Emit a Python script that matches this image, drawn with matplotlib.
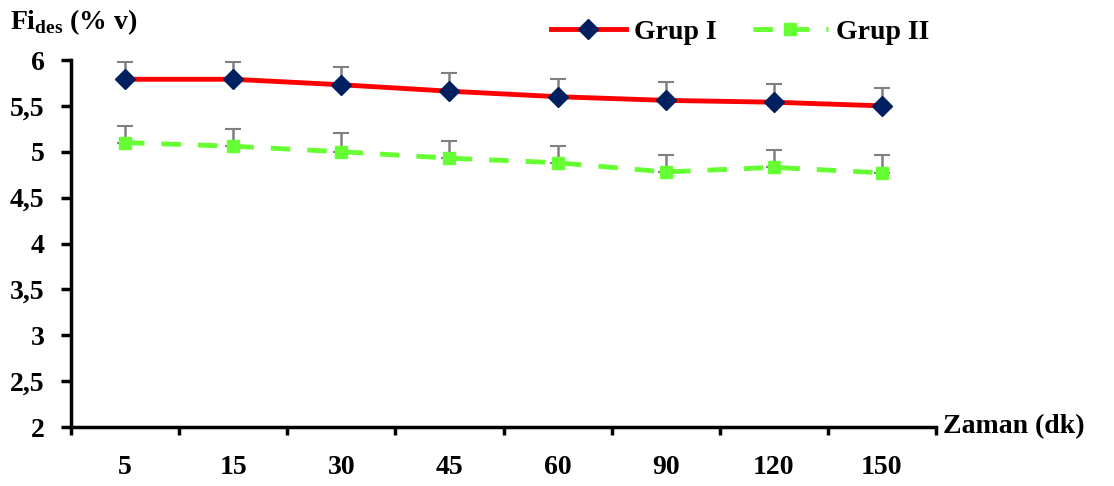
from matplotlib import pyplot as plt
import numpy as np

zaman = ['5', '15', '30', '45', '60', '90', '120', '150']
grup1 = [5.79, 5.79, 5.73, 5.66, 5.60, 5.56, 5.54, 5.50]
grup1_err = [0.19, 0.19, 0.19, 0.20, 0.19, 0.20, 0.20, 0.19]
grup2 = [5.10, 5.06, 5.00, 4.93, 4.88, 4.78, 4.83, 4.77]
grup2_err = [0.18, 0.19, 0.20, 0.19, 0.18, 0.19, 0.19, 0.20]
yticks = [2, 2.5, 3, 3.5, 4, 4.5, 5, 5.5, 6]

plt.rcParams['font.family'] = ['Liberation Serif', 'DejaVu Serif']
plt.rcParams['font.weight'] = 'bold'
fs = 20

fig = plt.figure(figsize=(11.14, 4.86), dpi=100)
ax = fig.add_axes([71 / 1114, 1 - 427 / 486, (936 - 71) / 1114, (427 - 60) / 486])

x = np.arange(len(zaman))
zeros = np.zeros(len(zaman))

for vals, err in [(grup1, grup1_err), (grup2, grup2_err)]:
    _, caps, _ = ax.errorbar(x, vals, yerr=[zeros, err], fmt='none', ecolor='#808080',
                             elinewidth=1.8, capsize=6, capthick=1.5, zorder=1)
    for c in caps:
        c.set_color('#333333')

ax.plot(x, grup1, color='#ff0000', lw=3.5, marker='D', ms=10,
        mfc='#002060', mec='#002060', label='Grup I', zorder=3)
ax.plot(x, grup2, color='#66ff33', lw=3.5, ls=(0, (4, 3.5)), marker='s', ms=8,
        mfc='#66ff33', mec='#66ff33', label='Grup II', zorder=3)

ax.set_xlim(-0.5, len(zaman) - 0.5)
ax.set_ylim(2, 6)
ax.set_yticks(yticks)
ax.set_yticklabels([str(v).replace('.', ',').replace(',0', '') for v in yticks], fontsize=fs)

ax.set_xticks(np.arange(len(zaman) + 1) - 0.5)
ax.set_xticklabels([])
ax.set_xticks(x, minor=True)
ax.set_xticklabels(zaman, minor=True, fontsize=fs)
ax.tick_params(axis='x', which='minor', length=0, pad=20)
ax.tick_params(axis='x', which='major', length=6, width=2.5, direction='out')
ax.tick_params(axis='y', length=7, width=2.5, direction='out', pad=12)

for side in ['top', 'right']:
    ax.spines[side].set_visible(False)
for side in ['left', 'bottom']:
    ax.spines[side].set_linewidth(2.5)

fig.text(10 / 1114, 1 - 22 / 486, r'Fi$_{\mathregular{des}}$ (% v)', fontsize=fs,
         fontweight='bold', va='center')
fig.text(943 / 1114, 1 - 427 / 486, 'Zaman (dk)', fontsize=fs, fontweight='bold', va='center')

fig.legend(loc='center', bbox_to_anchor=(740 / 1114, 1 - 32 / 486), ncol=2, frameon=False,
           fontsize=fs, handlelength=2.7, columnspacing=1.3, handletextpad=0.3)

fig.savefig('out.png', dpi=100)
